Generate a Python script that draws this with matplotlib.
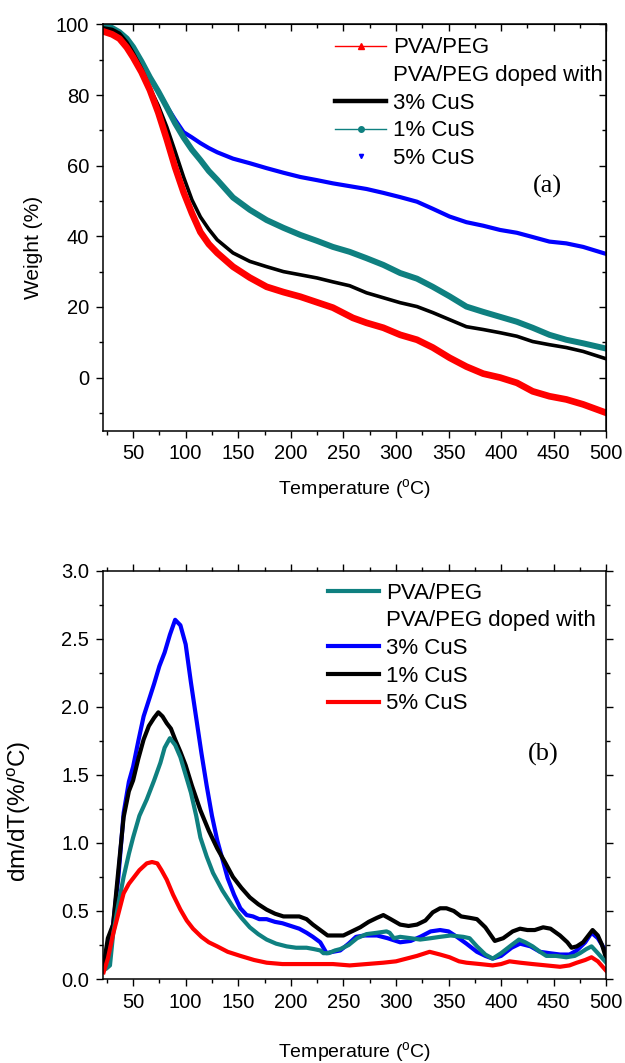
import matplotlib.pyplot as plt
from matplotlib.lines import Line2D
from matplotlib.ticker import MultipleLocator

plt.rcParams['font.family'] = ['Liberation Sans', 'DejaVu Sans']
plt.rcParams['mathtext.default'] = 'regular'

teal = '#0f8080'

# ---- (a) TGA weight curves ----
t_pva = [22, 25, 30, 37, 44, 50, 58, 66, 74, 82, 90, 98, 106, 114, 122, 130, 145, 161, 177, 193,
         209, 225, 240, 259, 272, 288, 304, 320, 335, 351, 367, 383, 399, 415, 430, 446, 462, 478, 500]
w_pva = [98, 97.7, 97.2, 96, 93.5, 90.7, 86.5, 81.4, 75, 67.5, 59.5, 52.5, 46.5, 41.2, 37.8, 35.3, 31.4, 28.3, 25.7, 24.2,
         22.9, 21.3, 19.8, 16.9, 15.5, 14.1, 12.1, 10.7, 8.5, 5.6, 3.1, 1.1, 0.0, -1.5, -3.9, -5.3, -6.2, -7.6, -10.0]

t_3 = [22, 30, 37, 44, 50, 58, 66, 74, 82, 90, 98, 106, 114, 122, 130, 145, 161, 177, 193,
       209, 225, 240, 256, 272, 288, 304, 320, 335, 351, 367, 383, 399, 415, 430, 446, 462, 478, 500]
w_3 = [99, 98.6, 97.5, 95, 92, 87.5, 82, 77, 71, 64, 56.8, 50.3, 45.5, 42, 39, 35.3, 32.9, 31.4, 30,
       29.1, 28.2, 27.1, 26.0, 24, 22.6, 21.2, 20.1, 18.4, 16.4, 14.4, 13.6, 12.7, 11.7, 10.2, 9.3, 8.5, 7.4, 5.3]

t_1 = [21, 24, 30, 37, 44, 50, 58, 66, 74, 82, 90, 98, 106, 114, 122, 130, 145, 161, 177, 193,
       209, 225, 240, 256, 272, 288, 304, 320, 335, 351, 367, 383, 399, 415, 430, 446, 462, 478, 500]
w_1 = [100, 99.7, 99, 97.8, 96, 93.6, 89.5, 85, 81, 76.6, 72, 68, 64.5, 61.6, 58.5, 56, 51, 47.5, 44.6, 42.4,
       40.4, 38.7, 37, 35.6, 33.8, 31.9, 29.6, 28.0, 25.7, 23, 20.1, 18.6, 17.2, 15.8, 14.1, 12.1, 10.7, 9.7, 8.2]

t_5 = [21, 24, 30, 37, 44, 50, 58, 66, 74, 82, 90, 98, 106, 114, 122, 130, 145, 161, 177, 193,
       209, 225, 240, 256, 272, 288, 304, 320, 335, 351, 367, 383, 399, 415, 430, 446, 462, 478, 500]
w_5 = [100, 99.7, 99, 97.8, 96, 93.6, 89.5, 85, 81, 76.8, 73, 69.5, 68, 66.4, 65, 63.8, 62, 60.7, 59.3, 58,
       56.8, 55.9, 55, 54.2, 53.4, 52.3, 51.1, 49.8, 47.8, 45.6, 44, 43.0, 41.8, 41.0, 39.8, 38.5, 38, 37.0, 35.0]

# ---- (b) DTG curves ----
tb_pva = [25, 28, 31, 36, 41, 46, 50, 56, 63, 70, 76, 80, 85, 90, 95, 100, 105, 110, 114, 120,
          126, 135, 145, 153, 161, 169, 177, 186, 196, 205, 215, 222, 228, 231, 236, 242, 247, 255, 263, 272,
          282, 291, 294, 298, 304, 314, 323, 333, 342, 352, 364, 370, 377, 385, 392, 400, 410, 417, 423, 430,
          437, 443, 452, 462, 470, 475, 481, 486, 492, 500]
d_pva = [0.08, 0.10, 0.33, 0.55, 0.75, 0.92, 1.04, 1.20, 1.32, 1.46, 1.59, 1.70, 1.77, 1.72, 1.63, 1.50, 1.37, 1.20, 1.04, 0.90,
         0.78, 0.65, 0.53, 0.45, 0.38, 0.33, 0.29, 0.26, 0.24, 0.23, 0.23, 0.22, 0.21, 0.19, 0.19, 0.21, 0.22, 0.25, 0.30, 0.33,
         0.34, 0.35, 0.34, 0.30, 0.31, 0.30, 0.29, 0.30, 0.31, 0.32, 0.31, 0.30, 0.24, 0.18, 0.15, 0.19, 0.25, 0.29, 0.27, 0.24,
         0.20, 0.17, 0.17, 0.16, 0.17, 0.19, 0.22, 0.24, 0.19, 0.12]

tb_3 = [22, 26, 31, 36, 41, 46, 50, 55, 60, 65, 70, 75, 80, 85, 90, 95, 100, 105, 110, 115,
        120, 125, 130, 135, 140, 146, 152, 158, 164, 170, 177, 185, 192, 200, 208, 215, 221, 228, 234, 240,
        247, 255, 262, 270, 282, 292, 304, 314, 323, 333, 342, 350, 358, 367, 377, 385, 392, 400, 410, 418,
        428, 437, 446, 456, 465, 472, 480, 486, 492, 500]
d_3 = [0.08, 0.25, 0.40, 0.75, 1.22, 1.45, 1.56, 1.75, 1.93, 2.05, 2.17, 2.30, 2.40, 2.53, 2.64, 2.60, 2.46, 2.18, 1.92, 1.66,
       1.42, 1.20, 1.02, 0.88, 0.74, 0.62, 0.52, 0.47, 0.46, 0.44, 0.44, 0.42, 0.41, 0.39, 0.37, 0.34, 0.31, 0.27, 0.19, 0.20,
       0.21, 0.26, 0.31, 0.32, 0.32, 0.30, 0.27, 0.28, 0.31, 0.35, 0.36, 0.35, 0.31, 0.26, 0.20, 0.17, 0.15, 0.17, 0.23, 0.26,
       0.24, 0.20, 0.19, 0.18, 0.18, 0.21, 0.27, 0.34, 0.30, 0.20]

tb_1 = [22, 26, 31, 36, 41, 46, 50, 55, 60, 65, 70, 74, 78, 82, 86, 90, 95, 100, 106, 114,
        122, 130, 138, 145, 153, 161, 169, 177, 185, 193, 200, 208, 215, 221, 228, 235, 242, 250, 258, 266,
        274, 282, 288, 295, 304, 312, 320, 328, 335, 342, 348, 355, 362, 370, 377, 385, 394, 402, 411, 418,
        425, 432, 440, 447, 456, 463, 467, 472, 478, 483, 487, 492, 496, 500]
d_1 = [0.10, 0.30, 0.40, 0.80, 1.19, 1.38, 1.46, 1.62, 1.76, 1.86, 1.92, 1.96, 1.93, 1.88, 1.84, 1.76, 1.67, 1.57, 1.42, 1.24,
       1.09, 0.96, 0.85, 0.75, 0.67, 0.60, 0.55, 0.51, 0.48, 0.46, 0.46, 0.46, 0.44, 0.40, 0.36, 0.32, 0.32, 0.32, 0.35, 0.38,
       0.42, 0.45, 0.47, 0.44, 0.40, 0.39, 0.40, 0.43, 0.49, 0.52, 0.52, 0.50, 0.46, 0.45, 0.44, 0.38, 0.28, 0.30, 0.35, 0.37,
       0.36, 0.36, 0.38, 0.37, 0.32, 0.27, 0.23, 0.24, 0.27, 0.32, 0.36, 0.32, 0.25, 0.15]

tb_5 = [22, 26, 31, 36, 41, 46, 50, 56, 63, 68, 73, 77, 82, 88, 95, 101, 107, 115, 122, 130,
        140, 152, 165, 177, 192, 208, 224, 240, 256, 272, 288, 300, 310, 320, 332, 342, 351, 360, 367, 380,
        392, 400, 408, 418, 430, 443, 456, 465, 472, 480, 486, 492, 500]
d_5 = [0.05, 0.15, 0.33, 0.48, 0.63, 0.70, 0.74, 0.80, 0.85, 0.86, 0.85, 0.80, 0.73, 0.62, 0.51, 0.43, 0.37, 0.31, 0.27, 0.24,
       0.20, 0.17, 0.14, 0.12, 0.11, 0.11, 0.11, 0.11, 0.10, 0.11, 0.12, 0.13, 0.15, 0.17, 0.20, 0.18, 0.16, 0.13, 0.12, 0.11,
       0.10, 0.11, 0.13, 0.12, 0.11, 0.10, 0.09, 0.10, 0.12, 0.14, 0.16, 0.13, 0.06]

legend_labels = ['PVA/PEG', 'PVA/PEG doped with', '3% CuS', '1% CuS', '5% CuS']

fig = plt.figure(figsize=(6.25, 10.63), dpi=100)
ax1 = fig.add_axes([0.165, 0.595, 0.805, 0.382])
ax2 = fig.add_axes([0.165, 0.079, 0.805, 0.384])

# (a)
ax1.plot(t_5, w_5, color='blue', lw=3)
ax1.plot(t_1, w_1, color=teal, lw=4.3)
ax1.plot(t_3, w_3, color='black', lw=2.6)
ax1.plot(t_pva, w_pva, color='red', lw=4.8)
ax1.set_xlim(21.5, 500)
ax1.set_ylim(-15, 100)
ax1.xaxis.set_major_locator(MultipleLocator(50))
ax1.xaxis.set_minor_locator(MultipleLocator(25))
ax1.yaxis.set_major_locator(MultipleLocator(20))
ax1.yaxis.set_minor_locator(MultipleLocator(10))
ax1.tick_params(which='both', direction='out', top=False, right=False, labelsize=14.5, width=1, pad=5)
ax1.tick_params(which='major', length=5)
ax1.tick_params(which='minor', length=3)
secx = ax1.secondary_xaxis('top')
secx.xaxis.set_major_locator(MultipleLocator(50))
secx.xaxis.set_minor_locator(MultipleLocator(25))
secx.tick_params(which='both', direction='in', labeltop=False, width=1)
secx.tick_params(which='major', length=5)
secx.tick_params(which='minor', length=3)
secy = ax1.secondary_yaxis('right')
secy.yaxis.set_major_locator(MultipleLocator(20))
secy.yaxis.set_minor_locator(MultipleLocator(10))
secy.tick_params(which='both', direction='in', labelright=False, width=1)
secy.tick_params(which='major', length=5)
secy.tick_params(which='minor', length=3)

h1 = [Line2D([], [], color='red', lw=1, marker='^', ms=4),
      Line2D([], [], ls='none'),
      Line2D([], [], color='black', lw=3.2),
      Line2D([], [], color=teal, lw=1, marker='o', ms=4),
      Line2D([], [], ls='none', color='blue', marker='v', ms=3)]
ax1.legend(h1, legend_labels, loc='upper left', bbox_to_anchor=(0.461, 0.968), frameon=False,
           fontsize=16, handlelength=2.3, handletextpad=0.3, labelspacing=0.3, borderpad=0, borderaxespad=0)
ax1.text(0.883, 0.60, '(a)', transform=ax1.transAxes, ha='center', va='center',
         fontsize=19, family='Liberation Serif')
ax1.set_xlabel('Temperature ($^{o}$C)', fontsize=14)
ax1.set_ylabel('Weight (%)', fontsize=15)
ax1.xaxis.set_label_coords(0.5, -0.115)
ax1.yaxis.set_label_coords(-0.12, 0.45)

# (b)
ax2.plot(tb_3, d_3, color='blue', lw=3)
ax2.plot(tb_1, d_1, color='black', lw=3)
ax2.plot(tb_pva, d_pva, color=teal, lw=3)
ax2.plot(tb_5, d_5, color='red', lw=3)
ax2.set_xlim(21.5, 500)
ax2.set_ylim(0, 3.0)
ax2.xaxis.set_major_locator(MultipleLocator(50))
ax2.xaxis.set_minor_locator(MultipleLocator(25))
ax2.yaxis.set_major_locator(MultipleLocator(0.5))
ax2.yaxis.set_minor_locator(MultipleLocator(0.25))
ax2.yaxis.set_major_formatter('{x:.1f}')
ax2.tick_params(which='both', direction='out', top=True, right=True, labelsize=14.5, width=1, pad=5)
ax2.tick_params(which='major', length=5)
ax2.tick_params(which='minor', length=3)

h2 = [Line2D([], [], color=teal, lw=3),
      Line2D([], [], ls='none'),
      Line2D([], [], color='blue', lw=3),
      Line2D([], [], color='black', lw=3),
      Line2D([], [], color='red', lw=3)]
ax2.legend(h2, legend_labels, loc='upper left', bbox_to_anchor=(0.447, 0.971), frameon=False,
           fontsize=16, handlelength=2.3, handletextpad=0.3, labelspacing=0.3, borderpad=0, borderaxespad=0)
ax2.text(0.875, 0.549, '(b)', transform=ax2.transAxes, ha='center', va='center',
         fontsize=19, family='Liberation Serif')
ax2.set_xlabel('Temperature ($^{o}$C)', fontsize=14)
ax2.set_ylabel('dm/dT(%/$^{o}$C)', fontsize=17.5)
ax2.xaxis.set_label_coords(0.5, -0.15)
ax2.yaxis.set_label_coords(-0.14, 0.41)

for ax in (ax1, ax2):
    for s in ax.spines.values():
        s.set_linewidth(1.1)

fig.savefig('out.png', dpi=100)
